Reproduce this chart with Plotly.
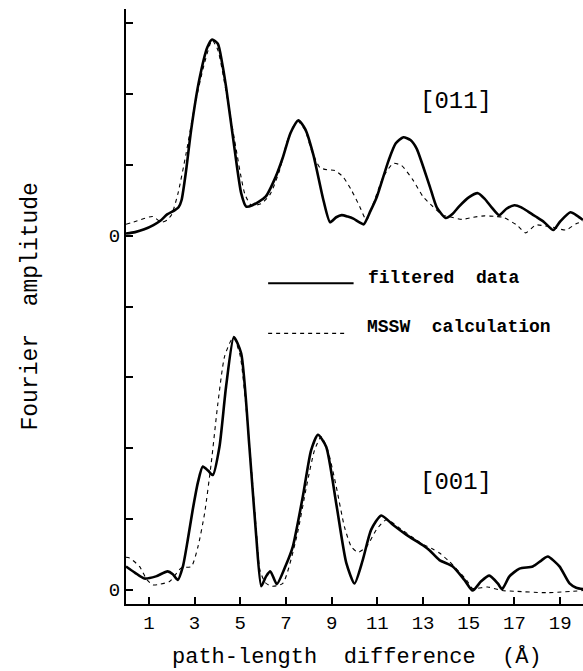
import plotly.graph_objects as go

# ---- data: [011] panel (amplitude relative to its own zero) ----
x_011_filt = [0.0, 0.4, 0.8, 1.2, 1.5, 1.8, 2.14, 2.3, 2.43, 2.63, 2.85, 3.2, 3.56, 3.77, 4.02, 4.2, 4.38, 4.74,
              5.04, 5.26, 5.53, 6.11, 6.55, 6.86, 7.2, 7.54, 7.85, 8.2, 8.64, 8.93, 9.2, 9.44, 9.7, 9.95, 10.2,
              10.4, 10.7, 10.98, 11.49, 11.8, 12.14, 12.45, 12.72, 13.0, 13.3, 13.6, 13.99, 14.3, 14.57, 15.0,
              15.4, 15.7, 16.0, 16.33, 16.65, 17.0, 17.3, 17.6, 17.93, 18.3, 18.7, 19.0, 19.45, 19.75, 20.0]
y_011_filt = [0.03, 0.05, 0.09, 0.15, 0.21, 0.30, 0.36, 0.40, 0.50, 0.92, 1.49, 2.19, 2.66, 2.77, 2.71, 2.45, 2.10,
              1.25, 0.60, 0.41, 0.43, 0.55, 0.83, 1.10, 1.45, 1.63, 1.50, 1.14, 0.50, 0.19, 0.26, 0.29, 0.27, 0.24,
              0.19, 0.16, 0.35, 0.55, 1.06, 1.30, 1.39, 1.35, 1.23, 0.98, 0.69, 0.40, 0.25, 0.31, 0.41, 0.54,
              0.60, 0.52, 0.40, 0.29, 0.38, 0.43, 0.40, 0.34, 0.27, 0.19, 0.08, 0.20, 0.33, 0.28, 0.22]

x_011_mssw = [0.0, 0.5, 1.17, 1.54, 1.8, 2.0, 2.27, 2.63, 3.0, 3.43, 3.77, 4.02, 4.4, 4.75, 5.2, 5.48, 5.9, 6.3,
              6.7, 7.1, 7.5, 7.85, 8.1, 8.27, 8.49, 8.8, 9.14, 9.5, 9.87, 10.23, 10.52, 10.82, 11.26, 11.7, 12.06,
              12.57, 13.0, 13.4, 13.86, 14.13, 14.7, 15.2, 15.7, 16.2, 16.5, 17.1, 17.49, 17.93, 18.3, 18.66,
              19.25, 19.7, 20.0]
y_011_mssw = [0.16, 0.21, 0.27, 0.19, 0.22, 0.30, 0.59, 1.16, 1.82, 2.43, 2.76, 2.62, 2.00, 1.35, 0.59, 0.43, 0.45,
              0.58, 0.90, 1.38, 1.62, 1.48, 1.22, 1.09, 0.96, 0.93, 0.92, 0.83, 0.64, 0.41, 0.22, 0.45, 0.83, 1.02,
              0.99, 0.78, 0.55, 0.42, 0.29, 0.27, 0.23, 0.26, 0.28, 0.27, 0.26, 0.15, 0.04, 0.15, 0.14, 0.12,
              0.08, 0.17, 0.20]

# ---- data: [001] panel ----
x_001_filt = [0.0, 0.4, 0.8, 1.31, 1.82, 2.05, 2.27, 2.49, 2.7, 2.92, 3.15, 3.36, 3.6, 3.8, 4.09, 4.38, 4.72, 5.04,
              5.4, 5.7, 5.92, 6.13, 6.32, 6.6, 7.0, 7.3, 7.74, 8.1, 8.4, 8.76, 9.2, 9.64, 10.0, 10.36, 10.73,
              11.17, 11.68, 12.26, 12.99, 13.28, 13.72, 14.3, 14.81, 15.17, 15.54, 15.9, 16.27, 16.46, 16.78,
              17.22, 17.8, 18.2, 18.46, 18.97, 19.41, 19.7, 20.0]
y_001_filt = [0.33, 0.24, 0.16, 0.19, 0.26, 0.22, 0.14, 0.33, 0.70, 1.13, 1.52, 1.74, 1.68, 1.62, 2.02, 2.87, 3.57,
              3.34, 2.02, 0.75, 0.05, 0.19, 0.26, 0.08, 0.35, 0.61, 1.32, 1.97, 2.19, 2.02, 1.22, 0.38, 0.09, 0.42,
              0.85, 1.05, 0.92, 0.78, 0.63, 0.56, 0.42, 0.33, 0.14, -0.01, 0.12, 0.20, 0.09, 0.01, 0.19,
              0.30, 0.33, 0.42, 0.47, 0.33, 0.09, 0.03, 0.01]

x_001_mssw = [0.0, 0.15, 0.59, 0.9, 1.17, 1.5, 1.92, 2.42, 2.86, 3.15, 3.44, 3.73, 4.02, 4.31, 4.61, 4.72, 5.0, 5.4,
              5.7, 5.86, 6.1, 6.4, 6.86, 7.47, 7.9, 8.25, 8.54, 8.83, 9.2, 9.56, 9.86, 10.15, 10.53, 10.96, 11.4,
              11.98, 12.5, 13.0, 13.4, 13.72, 14.15, 14.9, 15.17, 15.83, 16.46, 17.0, 18.4, 20.0]
y_001_mssw = [0.46, 0.45, 0.33, 0.15, 0.07, 0.08, 0.12, 0.31, 0.33, 0.61, 1.08, 1.79, 2.63, 3.29, 3.53, 3.56, 3.30,
              2.05, 0.85, 0.28, 0.10, 0.05, 0.09, 0.75, 1.46, 1.97, 2.16, 1.97, 1.46, 0.89, 0.61, 0.53, 0.61, 0.85,
              0.99, 0.87, 0.75, 0.64, 0.58, 0.52, 0.40, 0.14, 0.02, 0.04, -0.01, -0.02, -0.04, -0.01]

x_ticks = [1, 3, 5, 7, 9, 11, 13, 15, 17, 19]
y_ticks = [0, 1, 2, 3, 4, 5, 6, 7, 8]
y_ticktext = ["0", "", "", "", "", "0", "", "", ""]
OFFSET_011 = 5  # baseline of the [011] curve on the shared axis

MONO = "Liberation Mono"
solid = dict(color="black", width=2.6)
dash = dict(color="black", width=1.1, dash="4px,4px")

fig = go.Figure()
fig.add_trace(go.Scatter(x=x_011_mssw, y=[v + OFFSET_011 for v in y_011_mssw], mode="lines",
                         line=dict(shape="spline", smoothing=0.6, **dash)))
fig.add_trace(go.Scatter(x=x_011_filt, y=[v + OFFSET_011 for v in y_011_filt], mode="lines",
                         line=dict(shape="spline", smoothing=0.6, **solid)))
fig.add_trace(go.Scatter(x=x_001_mssw, y=y_001_mssw, mode="lines",
                         line=dict(shape="spline", smoothing=0.6, **dash)))
fig.add_trace(go.Scatter(x=x_001_filt, y=y_001_filt, mode="lines",
                         line=dict(shape="spline", smoothing=0.6, **solid)))

xr = [0, 20]
yr = [-0.2, 8.2]
axis_common = dict(ticks="inside", ticklen=7, tickwidth=1.5, tickcolor="black",
                   showgrid=False, zeroline=False, linecolor="black", linewidth=2)

fig.update_layout(
    width=583, height=671,
    margin=dict(l=126, r=0, t=9, b=67),
    paper_bgcolor="white", plot_bgcolor="white",
    showlegend=False,
    xaxis=dict(range=xr, tickvals=x_ticks, showline=True, mirror=False,
               tickfont=dict(family=MONO, size=19, color="black"), **axis_common),
    xaxis2=dict(range=xr, tickvals=x_ticks, overlaying="x", side="top", showline=True,
                showticklabels=False, **axis_common),
    yaxis=dict(range=yr, tickvals=y_ticks, ticktext=y_ticktext, showline=True, mirror=False,
               tickfont=dict(family=MONO, size=19, color="black"), **axis_common),
    yaxis2=dict(range=yr, tickvals=y_ticks, overlaying="y", side="right", showline=False,
                showticklabels=False, **axis_common),
)

# legend keys drawn by hand
fig.add_shape(type="line", xref="x", yref="y", x0=6.22, x1=9.96, y0=4.33, y1=4.33,
              line=dict(color="black", width=2))
fig.add_shape(type="line", xref="x", yref="y", x0=6.22, x1=9.65, y0=3.62, y1=3.62,
              line=dict(color="black", width=1.1, dash="4px,4px"))

annos = [
    dict(x=10.5, y=4.40, text="<b>filtered  data</b>", xanchor="left", size=18, family=MONO),
    dict(x=10.45, y=3.71, text="<b>MSSW  calculation</b>", xanchor="left", size=18, family=MONO),
    dict(x=14.44, y=6.89, text="[011]", xanchor="center", size=24, family=MONO),
    dict(x=14.44, y=1.51, text="[001]", xanchor="center", size=24, family=MONO),
]
for a in annos:
    fig.add_annotation(x=a["x"], y=a["y"], xref="x", yref="y", text=a["text"], showarrow=False,
                       xanchor=a["xanchor"], yanchor="middle",
                       font=dict(family=a["family"], size=a["size"], color="black"))

fig.add_annotation(x=0.505, y=-0.089, xref="paper", yref="paper", text="path-length  difference  (Å)",
                   showarrow=False, xanchor="center", yanchor="middle",
                   font=dict(family=MONO, size=22, color="black"))
fig.add_annotation(x=-0.21, y=0.50, xref="paper", yref="paper", text="Fourier  amplitude", textangle=-90,
                   showarrow=False, xanchor="center", yanchor="middle",
                   font=dict(family=MONO, size=23, color="black"))

fig.write_html("out.html")
